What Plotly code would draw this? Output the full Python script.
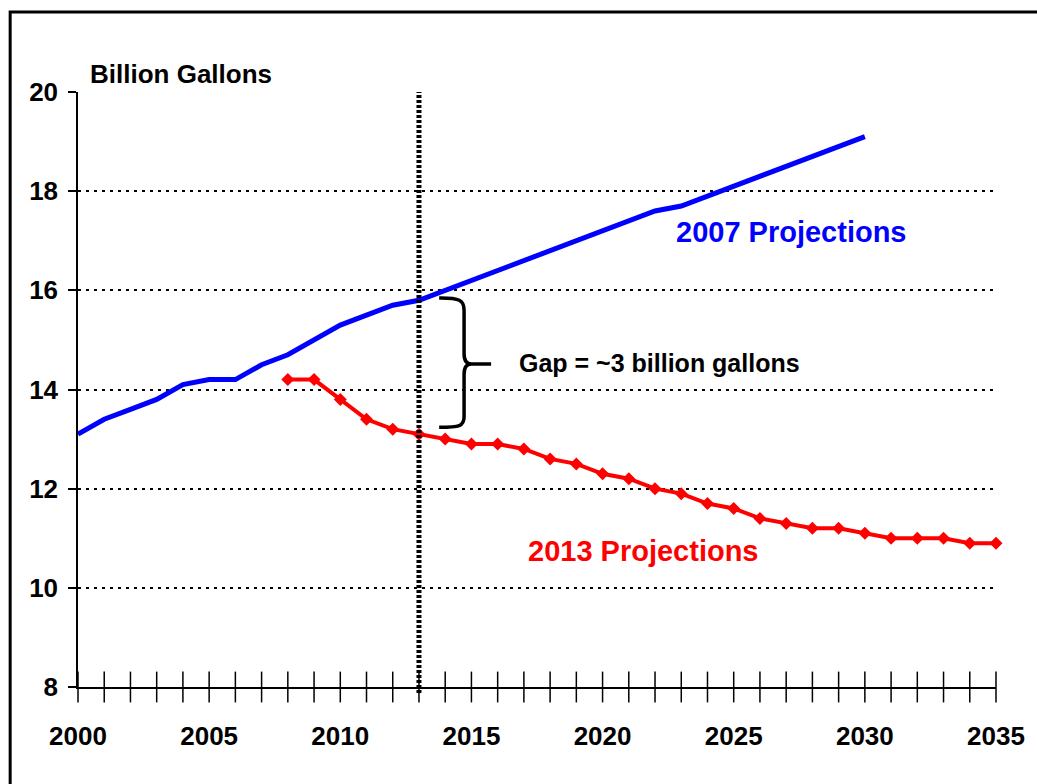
import plotly.graph_objects as go

# ---------------- data ----------------
years_2007 = list(range(2000, 2031))
proj_2007 = [13.1, 13.4, 13.6, 13.8, 14.1, 14.2, 14.2, 14.5, 14.7, 15.0,
             15.3, 15.5, 15.7, 15.8, 16.0, 16.2, 16.4, 16.6, 16.8, 17.0,
             17.2, 17.4, 17.6, 17.7, 17.9, 18.1, 18.3, 18.5, 18.7, 18.9, 19.1]

years_2013 = list(range(2008, 2036))
proj_2013 = [14.2, 14.2, 13.8, 13.4, 13.2, 13.1, 13.0, 12.9, 12.9, 12.8,
             12.6, 12.5, 12.3, 12.2, 12.0, 11.9, 11.7, 11.6, 11.4, 11.3,
             11.2, 11.2, 11.1, 11.0, 11.0, 11.0, 10.9, 10.9]

tick_years = list(range(2000, 2036))
x_label_vals = [2000, 2005, 2010, 2015, 2020, 2025, 2030, 2035]
y_tick_vals = [8, 10, 12, 14, 16, 18, 20]
divider_year = 2013

FONT = "Liberation Sans, Arial, sans-serif"
BLUE = "#0000FF"
RED = "#FF0000"

fig = go.Figure()

# cross tick marks on the x axis
fig.add_trace(go.Scatter(
    x=tick_years, y=[8] * len(tick_years), mode="markers",
    marker=dict(symbol="line-ns", size=22, line=dict(width=1.5, color="black")),
    cliponaxis=False, hoverinfo="skip", showlegend=False))

fig.add_trace(go.Scatter(
    x=years_2007, y=proj_2007, mode="lines",
    line=dict(color=BLUE, width=5), showlegend=False, cliponaxis=False))

fig.add_trace(go.Scatter(
    x=years_2013, y=proj_2013, mode="lines+markers",
    line=dict(color=RED, width=4),
    marker=dict(symbol="diamond", size=10, color=RED),
    showlegend=False, cliponaxis=False))

shapes = [
    # outer frame (runs off the right and bottom of the picture)
    dict(type="rect", xref="paper", yref="paper",
         x0=-0.0739, x1=1.06, y0=-0.2, y1=1.1345,
         line=dict(color="black", width=3), layer="below"),
    # vertical divider
    dict(type="line", xref="x", yref="paper",
         x0=divider_year, x1=divider_year, y0=-0.01, y1=1.0,
         line=dict(color="black", width=5, dash="3px,2px")),
    # curly brace
    dict(type="path", xref="x", yref="y",
         path=("M 2013.77,15.845 C 2014.55,15.85 2014.72,15.8 2014.72,15.6 "
               "L 2014.72,14.72 Q 2014.72,14.515 2015.0,14.515 L 2015.75,14.515 "
               "M 2015.0,14.515 Q 2014.72,14.515 2014.72,14.31 "
               "L 2014.72,13.45 C 2014.72,13.26 2014.55,13.24 2013.77,13.24"),
         line=dict(color="black", width=3.5)),
]

annotations = [
    dict(xref="paper", yref="paper", x=0.011, y=1.03, xanchor="left", yanchor="middle",
         text="<b>Billion Gallons</b>", showarrow=False,
         font=dict(family=FONT, size=26, color="black")),
    dict(xref="x", yref="y", x=2022.71, y=17.18, xanchor="left", yanchor="middle",
         text="<b>2007 Projections</b>", showarrow=False,
         font=dict(family=FONT, size=29, color=BLUE)),
    dict(xref="x", yref="y", x=2017.08, y=10.74, xanchor="left", yanchor="middle",
         text="<b>2013 Projections</b>", showarrow=False,
         font=dict(family=FONT, size=29, color=RED)),
    dict(xref="x", yref="y", x=2016.74, y=14.53, xanchor="left", yanchor="middle",
         text="<b>Gap = ~3 billion gallons</b>", showarrow=False,
         font=dict(family=FONT, size=25, color="black")),
]

fig.update_layout(
    width=1037, height=784,
    margin=dict(l=78, r=39, t=92, b=97),
    paper_bgcolor="white", plot_bgcolor="white",
    shapes=shapes, annotations=annotations,
    xaxis=dict(
        range=[2000, 2035], tickvals=x_label_vals,
        ticktext=[str(v) for v in x_label_vals],
        ticks="", showgrid=False, zeroline=False,
        showline=True, linecolor="black", linewidth=2,
        tickfont=dict(family=FONT, size=26, color="black", weight="bold"),
        ticklabelstandoff=25,
    ),
    yaxis=dict(
        range=[8, 20], tickvals=y_tick_vals,
        ticks="outside", ticklen=8, tickwidth=1.5, tickcolor="black",
        showgrid=True, gridcolor="black", gridwidth=2, griddash="3px,5px",
        zeroline=False, showline=True, linecolor="black", linewidth=1.5,
        tickfont=dict(family=FONT, size=26, color="black", weight="bold"),
        ticklabelstandoff=5,
    ),
)

fig.write_html(
    "out.html",
    config={"displayModeBar": False},
    post_script="document.body.style.margin='0';document.body.style.overflow='hidden';",
)
